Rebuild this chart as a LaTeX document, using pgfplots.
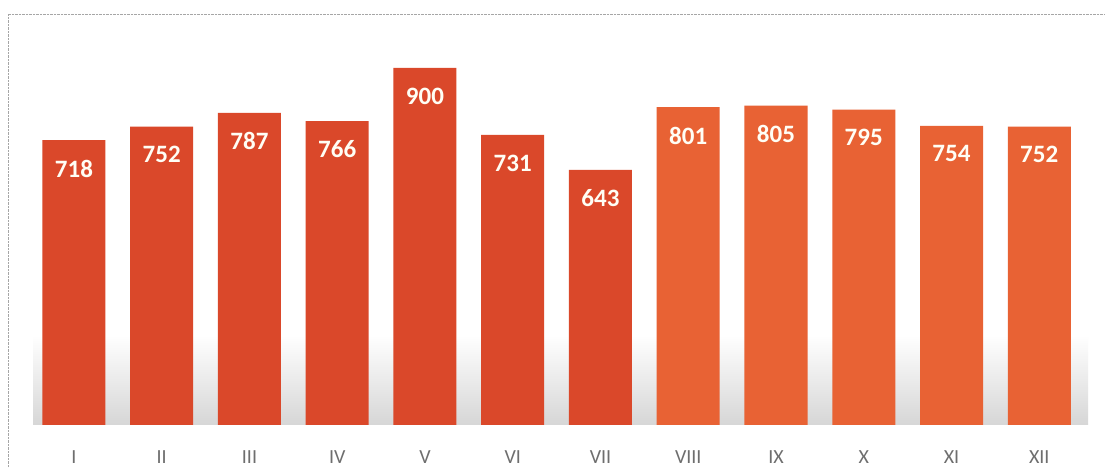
\documentclass[border=0pt]{standalone}
\usepackage{pgfplots}
\pgfplotsset{compat=1.18}
\usepackage{fontspec}
\setmainfont{Carlito}
\definecolor{barA}{RGB}{218,72,42}
\definecolor{barB}{RGB}{232,98,52}
\definecolor{tickgray}{RGB}{110,110,110}
\begin{document}
\begin{tikzpicture}
\fill[white] (-8pt,-43pt) rectangle (1100pt,425pt);
\shade[top color=white, bottom color=black!16] (25pt,0pt) rectangle (1080pt,90pt);
\begin{axis}[
  at={(0pt,0pt)}, anchor=south west,
  scale only axis, width=1096pt, height=411pt,
  xmin=-0.752, xmax=11.738, ymin=0, ymax=1036,
  axis line style={draw=none},
  ytick=\empty,
  xtick={0,1,2,3,4,5,6,7,8,9,10,11},
  xticklabels={I,II,III,IV,V,VI,VII,VIII,IX,X,XI,XII},
  major tick length=0pt,
  xticklabel style={font=\fontsize{20}{20}\selectfont, text=tickgray, yshift=-22pt},
  /pgf/number format/assume math mode=true,
  ybar, bar width=63pt, bar shift=0pt,
  nodes near coords,
  every node near coord/.append style={anchor=north, yshift=-19.5pt, inner sep=0pt,
     font=\bfseries\fontsize{25}{25}\selectfont, text=white!96!yellow},
  clip=false,
]
\addplot[fill=barA, draw=none] coordinates {(0,718) (1,752) (2,787) (3,766) (4,900) (5,731) (6,643)};
\addplot[fill=barB, draw=none] coordinates {(7,801) (8,805) (9,795) (10,754) (11,752)};
\end{axis}
\draw[black!35, densely dotted] (0pt,-43pt) -- (0pt,411pt) -- (1096pt,411pt);
\pgfresetboundingbox
\path[use as bounding box] (-8pt,-43pt) rectangle (1100pt,425pt);
\end{tikzpicture}
\end{document}
